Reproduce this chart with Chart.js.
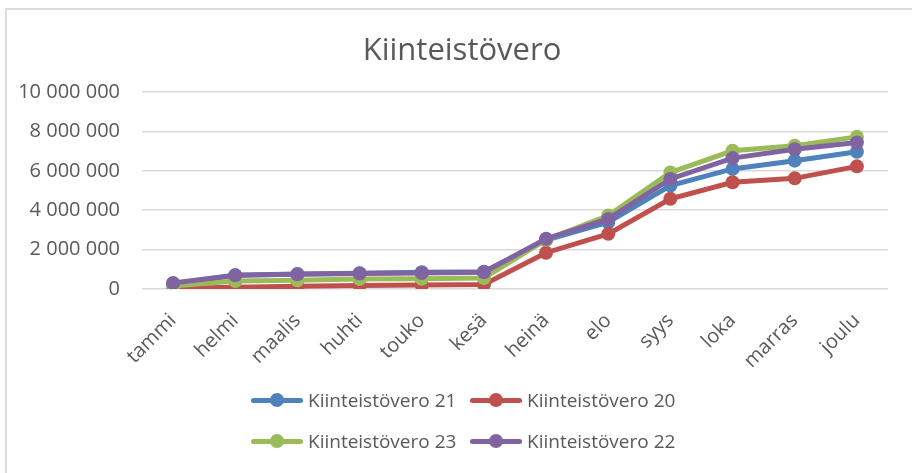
<!DOCTYPE html>
<html>
<head>
<meta charset="utf-8">
<script src="https://cdn.jsdelivr.net/npm/chart.js@4"></script>
<style>
  html, body { margin: 0; padding: 0; background: #fff; overflow: hidden; }
  #wrap { position: relative; width: 912px; height: 473px; overflow: hidden; }
  #frame { position: absolute; left: 5px; top: 8px; width: 930px; height: 490px; border: 2px solid #dcdcdc; box-sizing: border-box; }
  #myChart { position: absolute; left: 0; top: 0; }
  #legend { position: absolute; left: 251px; top: 386px; width: 460px; display: grid; grid-template-columns: 219px 219px; row-gap: 13px;
    font-family: "Open Sans", sans-serif; font-size: 19px; color: #595959; }
  .item { display: flex; align-items: center; height: 28px; }
  .sample { position: relative; width: 52px; height: 14px; margin-right: 5px; }
  .sample .ln { position: absolute; left: 0; right: 0; top: 5px; height: 5px; border-radius: 3px; }
  .sample .dot { position: absolute; left: 19px; top: 0; width: 14px; height: 14px; border-radius: 50%; }
</style>
</head>
<body>
<div id="wrap">
  <div id="frame"></div>
  <canvas id="myChart" width="912" height="473"></canvas>
  <div id="legend"></div>
</div>
<script>
const months = ["tammi", "helmi", "maalis", "huhti", "touko", "kesä", "heinä", "elo", "syys", "loka", "marras", "joulu"];
const yTicks = [0, 2000000, 4000000, 6000000, 8000000, 10000000];

const vero21 = [250000, 700000, 760000, 800000, 850000, 870000, 2480000, 3390000, 5250000, 6100000, 6520000, 6970000];
const vero20 = [30000, 80000, 130000, 170000, 200000, 220000, 1840000, 2800000, 4580000, 5420000, 5620000, 6230000];
const vero23 = [150000, 400000, 440000, 500000, 520000, 550000, 2500000, 3730000, 5920000, 7020000, 7280000, 7730000];
const vero22 = [300000, 690000, 740000, 780000, 810000, 850000, 2550000, 3560000, 5590000, 6650000, 7100000, 7440000];

const textColor = "#595959";
const fontFamily = "'Open Sans', sans-serif";

const makeSet = (label, data, color, order) => ({
  label,
  data,
  borderColor: color,
  backgroundColor: color,
  borderWidth: 5,
  pointRadius: 7,
  pointHoverRadius: 7,
  pointBorderWidth: 0,
  tension: 0,
  order,
});

const datasets = [
  makeSet("Kiinteistövero 21", vero21, "#4f81bd", 4),
  makeSet("Kiinteistövero 20", vero20, "#c0504d", 3),
  makeSet("Kiinteistövero 23", vero23, "#9bbb59", 2),
  makeSet("Kiinteistövero 22", vero22, "#8064a2", 1),
];

const formatNumber = (value) => value.toString().replace(/\B(?=(\d{3})+(?!\d))/g, " ");

const config = {
  type: "line",
  data: { labels: months, datasets },
  options: {
    responsive: false,
    animation: false,
    layout: { padding: { left: 18, right: 6, top: 6, bottom: 88 } },
    plugins: {
      legend: { display: false },
      tooltip: { enabled: false },
      title: {
        display: true,
        text: "Kiinteistövero",
        color: textColor,
        font: { family: fontFamily, size: 31, weight: "normal" },
        padding: { top: 27, bottom: 22 },
      },
    },
    scales: {
      x: {
        offset: true,
        grid: { display: false },
        border: { display: false },
        ticks: {
          color: textColor,
          font: { family: fontFamily, size: 20 },
          minRotation: 45,
          maxRotation: 45,
          padding: 12,
        },
      },
      y: {
        min: 0,
        max: 10000000,
        afterBuildTicks: (scale) => {
          scale.ticks = yTicks.map((value) => ({ value }));
        },
        afterFit: (scale) => {
          scale.width = 124;
        },
        grid: { color: "#d9d9d9", lineWidth: 1.5, drawTicks: false },
        border: { display: false },
        ticks: {
          color: textColor,
          font: { family: fontFamily, size: 20 },
          padding: 22,
          callback: (value) => formatNumber(value),
        },
      },
      // empty right-hand spacer so the title sits centred like the original
      spacer: {
        position: "right",
        grid: { display: false },
        border: { display: false },
        ticks: { display: false },
        afterFit: (scale) => {
          scale.width = 18;
        },
      },
    },
  },
};

const myChart = new Chart(document.querySelector("#myChart"), config);

const legend = document.querySelector("#legend");
datasets.forEach((set) => {
  const item = document.createElement("div");
  item.className = "item";
  item.innerHTML = `<span class="sample"><span class="ln" style="background:${set.borderColor}"></span><span class="dot" style="background:${set.borderColor}"></span></span><span>${set.label}</span>`;
  legend.appendChild(item);
});
</script>
</body>
</html>
